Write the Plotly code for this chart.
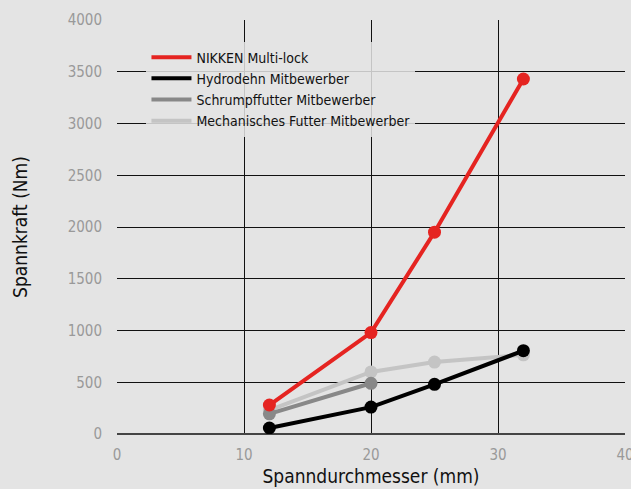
import plotly.graph_objects as go

x_nikken = [12, 20, 25, 32]
y_nikken = [280, 980, 1950, 3430]
x_hydro = [12, 20, 25, 32]
y_hydro = [58, 260, 480, 805]
x_schrumpf = [12, 20]
y_schrumpf = [195, 490]
x_mech = [12, 20, 25, 32]
y_mech = [230, 600, 695, 765]

series = [
    ("Mechanisches Futter Mitbewerber", x_mech, y_mech, "#c4c4c4", 4),
    ("Schrumpffutter Mitbewerber", x_schrumpf, y_schrumpf, "#888888", 3),
    ("Hydrodehn Mitbewerber", x_hydro, y_hydro, "#000000", 2),
    ("NIKKEN Multi-lock", x_nikken, y_nikken, "#e52421", 1),
]

FONT = "DejaVu Sans Condensed, Liberation Sans Narrow, sans-serif"
fig = go.Figure()
for name, xs, ys, col, rank in series:
    fig.add_trace(go.Scatter(x=xs, y=ys, mode="lines+markers", name=name,
                             line=dict(color=col, width=4),
                             marker=dict(color=col, size=13),
                             showlegend=False, hoverinfo="skip"))
for name, xs, ys, col, rank in series:
    fig.add_trace(go.Scatter(x=[None], y=[None], mode="lines", name=name,
                             line=dict(color=col, width=4), legendrank=rank))

fig.update_layout(
    width=631, height=489,
    margin=dict(l=117, r=6, t=20, b=55, autoexpand=False),
    paper_bgcolor="#e4e4e4", plot_bgcolor="#e4e4e4",
    font=dict(family=FONT, size=14, color="#111"),
    legend=dict(x=0.058, y=0.948, xanchor="left", yanchor="top",
                bgcolor="rgba(228,228,228,0.85)", font=dict(size=14, color="#111"),
                tracegroupgap=0, itemwidth=40),
    showlegend=True,
)
fig.update_xaxes(range=[0, 40], tickvals=[0, 10, 20, 30, 40], showgrid=True,
                 gridcolor="#111", gridwidth=1.3, zeroline=False, showline=False,
                 automargin=False, ticklabelstandoff=10, ticklabeloverflow="allow",
                 tickfont=dict(color="#999", size=15),
                 title=dict(text="Spanndurchmesser (mm)", font=dict(size=19, color="#111"), standoff=6))
fig.update_yaxes(range=[0, 4000], tickvals=list(range(0, 4001, 500)), showgrid=True,
                 gridcolor="#111", gridwidth=1.3, zeroline=True, zerolinecolor="#444",
                 zerolinewidth=2.2, showline=False, ticklabelstandoff=14,
                 automargin=False, ticklabeloverflow="allow",
                 tickfont=dict(color="#999", size=15),
                 title=dict(text="Spannkraft (Nm)", font=dict(size=19, color="#111"), standoff=35))

fig.write_html("out.html", config={"displayModeBar": False},
               post_script="document.body.style.margin='0';document.body.style.background='#e4e4e4';")
